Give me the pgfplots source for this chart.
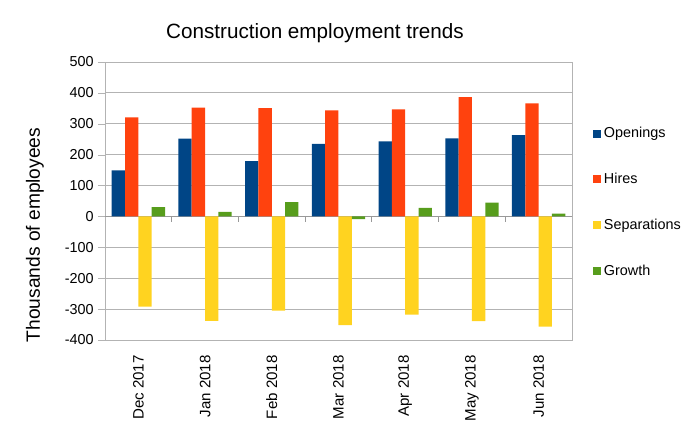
\documentclass[border=0pt]{standalone}
\usepackage{pgfplots}
\pgfplotsset{compat=1.18}
\usepackage{fontspec}
\setmainfont{Liberation Sans}
\definecolor{cOpen}{HTML}{004586}
\definecolor{cHire}{HTML}{FF420E}
\definecolor{cSep}{HTML}{FFD320}
\definecolor{cGrow}{HTML}{579D1C}
\definecolor{gridc}{HTML}{B3B3B3}
\begin{document}
\begin{tikzpicture}
\path[use as bounding box] (-78.75pt,-71.25pt) rectangle (443.25pt,255pt);
\begin{axis}[
  at={(0pt,0pt)}, anchor=south west,
  scale only axis, width=350.25pt, height=208.5pt,
  xmin=-0.5, xmax=6.5, ymin=-400, ymax=500,
  ytick={-400,-300,...,500},
  xtick={0,...,6},
  xticklabels={Dec 2017,Jan 2018,Feb 2018,Mar 2018,Apr 2018,May 2018,Jun 2018},
  xticklabel style={rotate=90, anchor=east, font=\fontsize{11.3}{13}\selectfont, xshift=-3pt},
  yticklabel style={font=\fontsize{10.8}{13}\selectfont},
  /pgf/number format/assume math mode=true,
  major x tick style={draw=none},
  ytick pos=left,
  tick align=outside, major tick length=5pt,
  ytick style={gridc},
  ymajorgrids, grid style={gridc, line width=0.6pt},
  axis line style={gridc, line width=0.6pt},
  ybar=0pt, bar width=10pt,
  legend style={draw=none, at={(1.045,0.775)}, anchor=north west,
    font=\fontsize{10.8}{13}\selectfont, row sep=21pt, inner sep=0pt},
  legend cell align=left,
  legend image code/.code={\fill[#1] (0pt,-3pt) rectangle (6pt,3pt);},
]
\draw[gray!80, line width=0.6pt] (axis cs:-0.5,0) -- (axis cs:6.5,0);
\addplot[fill=cOpen, draw=none] coordinates {(0,149) (1,252) (2,179) (3,235) (4,243) (5,253) (6,263)};
\addplot[fill=cHire, draw=none] coordinates {(0,321) (1,352) (2,351) (3,343) (4,347) (5,386) (6,366)};
\addplot[fill=cSep, draw=none] coordinates {(0,-292) (1,-338) (2,-305) (3,-352) (4,-318) (5,-339) (6,-357)};
\addplot[fill=cGrow, draw=none] coordinates {(0,30) (1,15) (2,46) (3,-9) (4,28) (5,45) (6,9)};
\legend{Openings,Hires,Separations,Growth}
\draw[gray!80, line width=0.6pt] (axis cs:0.5,0) -- ++(0pt,-4pt);
\draw[gray!80, line width=0.6pt] (axis cs:1.5,0) -- ++(0pt,-4pt);
\draw[gray!80, line width=0.6pt] (axis cs:2.5,0) -- ++(0pt,-4pt);
\draw[gray!80, line width=0.6pt] (axis cs:3.5,0) -- ++(0pt,-4pt);
\draw[gray!80, line width=0.6pt] (axis cs:4.5,0) -- ++(0pt,-4pt);
\draw[gray!80, line width=0.6pt] (axis cs:5.5,0) -- ++(0pt,-4pt);
\end{axis}
\node[font=\fontsize{15.5}{18}\selectfont] at (157.5pt,230.25pt) {Construction employment trends};
\node[rotate=90, font=\fontsize{14.4}{17}\selectfont] at (-52.5pt,78.75pt) {Thousands of employees};
\end{tikzpicture}
\end{document}
